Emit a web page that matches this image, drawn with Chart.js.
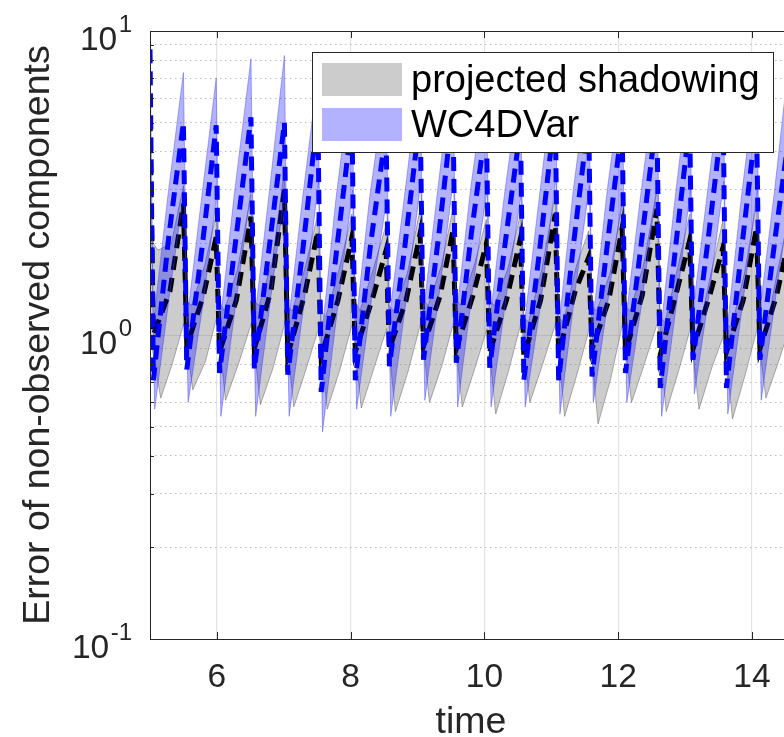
<!DOCTYPE html>
<html>
<head>
<meta charset="utf-8">
<script src="https://cdn.jsdelivr.net/npm/chart.js@4"></script>
<style>
  html, body { margin: 0; padding: 0; background: #fff; width: 784px; height: 737px; overflow: hidden; }
  #wrap { width: 800px; height: 737px; }
</style>
</head>
<body>
<div id="wrap"><canvas id="c" width="800" height="737"></canvas></div>
<script>
// ---- WC4DVar: mean error (dashed blue) ----
const wcTime = [5.00,5.05,5.28, 5.50,5.55,5.78, 5.99,6.04,6.27, 6.51,6.56,6.79, 7.01,7.06,7.29,
  7.51,7.56,7.79, 8.02,8.07,8.30, 8.53,8.58,8.81, 9.04,9.09,9.32, 9.53,9.58,9.81,
  10.03,10.08,10.31, 10.54,10.59,10.82, 11.06,11.11,11.34, 11.56,11.61,11.84, 12.06,12.11,12.34,
  12.58,12.63,12.86, 13.07,13.12,13.35, 13.57,13.62,13.85, 14.07,14.12,14.35, 14.58];
const wcMean = [8.7,0.71,2.1, 5.0,0.77,1.95, 4.9,0.75,1.95, 5.2,0.77,2.0, 5.0,0.74,1.95,
  5.4,0.65,1.9, 5.1,0.71,2.0, 4.7,0.79,1.95, 5.3,0.83,2.15, 5.6,0.81,2.2,
  5.0,0.78,2.0, 4.8,0.71,1.85, 5.5,0.71,2.05, 5.2,0.73,2.0, 4.9,0.75,1.95,
  5.3,0.67,1.95, 5.0,0.83,2.1, 5.4,0.67,1.95, 5.1,0.83,2.1, 5.0];

// ---- WC4DVar: spread (upper / lower edge of the blue band) ----
const wcHiTime = [5.00,5.05,5.27, 5.50,5.55,5.77, 5.99,6.04,6.26, 6.51,6.56,6.78, 7.01,7.06,7.28,
  7.51,7.56,7.78, 8.02,8.07,8.29, 8.53,8.58,8.80, 9.04,9.09,9.31, 9.53,9.58,9.80,
  10.03,10.08,10.30, 10.54,10.59,10.81, 11.06,11.11,11.33, 11.56,11.61,11.83, 12.06,12.11,12.33,
  12.58,12.63,12.85, 13.07,13.12,13.34, 13.57,13.62,13.84, 14.07,14.12,14.34, 14.58];
const wcHi = [9.3,1.1,2.9, 7.3,1.1,2.8, 7.0,1.05,2.9, 8.1,1.1,2.9, 8.3,1.05,2.8,
  7.2,0.95,2.8, 7.4,1.05,2.9, 6.9,1.15,2.8, 7.6,1.2,3.1, 7.9,1.15,3.1,
  7.2,1.1,2.9, 7.0,1.05,2.7, 7.8,1.05,3.0, 7.4,1.05,2.9, 7.1,1.1,2.8,
  7.6,1.0,2.8, 7.2,1.2,3.0, 7.7,1.0,2.8, 7.3,1.2,3.0, 9.0];
const wcLoTime = [5.00,5.07,5.30, 5.51,5.57,5.80, 6.00,6.06,6.29, 6.52,6.58,6.81, 7.02,7.08,7.31,
  7.52,7.58,7.81, 8.03,8.09,8.32, 8.54,8.60,8.83, 9.05,9.11,9.34, 9.54,9.60,9.83,
  10.04,10.10,10.33, 10.55,10.61,10.84, 11.07,11.13,11.36, 11.57,11.63,11.86, 12.07,12.13,12.36,
  12.59,12.65,12.88, 13.08,13.14,13.37, 13.58,13.64,13.87, 14.08,14.14,14.37, 14.59];
const wcLo = [4.5,0.57,1.4, 3.0,0.6,1.3, 2.9,0.54,1.3, 3.1,0.54,1.35, 3.0,0.54,1.3,
  3.2,0.48,1.25, 3.0,0.57,1.35, 2.8,0.54,1.3, 3.2,0.61,1.45, 3.3,0.58,1.45,
  3.0,0.58,1.35, 2.9,0.58,1.25, 3.3,0.55,1.4, 3.1,0.6,1.35, 2.9,0.6,1.3,
  3.2,0.54,1.3, 3.0,0.64,1.4, 3.2,0.55,1.3, 3.0,0.61,1.4, 3.0];

// ---- projected shadowing: mean error (dashed black) ----
const psTime = [5.00,5.05,5.30, 5.50,5.55,5.80, 5.99,6.04,6.29, 6.51,6.56,6.81, 7.01,7.06,7.31,
  7.51,7.56,7.81, 8.02,8.07,8.32, 8.53,8.58,8.83, 9.04,9.09,9.34, 9.53,9.58,9.83,
  10.03,10.08,10.33, 10.54,10.59,10.84, 11.06,11.11,11.36, 11.56,11.61,11.86, 12.06,12.11,12.36,
  12.58,12.63,12.88, 13.07,13.12,13.37, 13.57,13.62,13.87, 14.07,14.12,14.37, 14.58];
const psMean = [5.2,1.0,1.4, 2.7,0.92,1.35, 2.1,0.88,1.3, 2.45,0.9,1.4, 3.0,0.86,1.35,
  2.2,0.85,1.3, 2.1,0.88,1.3, 1.9,0.9,1.3, 2.16,0.92,1.35, 2.2,0.9,1.35,
  2.0,0.88,1.3, 2.08,0.85,1.3, 2.5,0.87,1.4, 1.8,0.9,1.3, 2.25,0.88,1.35,
  2.6,0.86,1.4, 2.05,0.9,1.35, 1.95,0.88,1.3, 2.26,0.9,1.35, 2.2];

// ---- projected shadowing: spread (upper / lower edge of the grey band) ----
const psHiTime = [5.00,5.05,5.12,5.32, 5.50,5.54,5.62,5.82, 5.99,6.03,6.11,6.31, 6.51,6.55,6.63,6.83,
  7.01,7.05,7.13,7.33, 7.51,7.55,7.63,7.83, 8.02,8.06,8.14,8.34, 8.53,8.57,8.65,8.85,
  9.04,9.08,9.16,9.36, 9.53,9.57,9.65,9.85, 10.03,10.07,10.15,10.35, 10.54,10.58,10.66,10.86,
  11.06,11.10,11.18,11.38, 11.56,11.60,11.68,11.88, 12.06,12.10,12.18,12.38, 12.58,12.62,12.70,12.90,
  13.07,13.11,13.19,13.39, 13.57,13.61,13.69,13.89, 14.07,14.11,14.19,14.39, 14.58];
const psHi = [2.4,2.0,1.9,2.0, 3.1,1.3,1.25,1.7, 2.5,1.3,1.2,1.65, 2.9,1.3,1.25,1.75,
  3.5,1.25,1.2,1.7, 2.5,1.2,1.15,1.65, 2.5,1.3,1.2,1.65, 2.3,1.25,1.2,1.6,
  2.6,1.3,1.25,1.7, 2.6,1.3,1.25,1.7, 2.4,1.3,1.25,1.65, 2.5,1.15,1.1,1.65,
  2.9,1.15,1.1,1.7, 2.2,1.25,1.2,1.6, 2.7,1.25,1.2,1.7, 3.0,1.15,1.1,1.7,
  2.5,1.05,1.0,1.6, 2.4,1.1,1.05,1.6, 2.7,1.0,0.98,1.65, 2.6];
const psLoTime = [5.00,5.16,5.33, 5.51,5.64,5.83, 6.00,6.13,6.32, 6.52,6.65,6.84, 7.02,7.15,7.34,
  7.52,7.65,7.84, 8.03,8.16,8.35, 8.54,8.67,8.86, 9.05,9.18,9.37, 9.54,9.67,9.86,
  10.04,10.17,10.36, 10.55,10.68,10.87, 11.07,11.20,11.39, 11.57,11.70,11.89, 12.07,12.20,12.39,
  12.59,12.72,12.91, 13.08,13.21,13.40, 13.58,13.71,13.90, 14.08,14.21,14.40, 14.59];
const psLo = [1.0,0.62,0.8, 1.1,0.66,0.82, 1.15,0.61,0.8, 1.1,0.59,0.78, 1.1,0.58,0.78,
  1.05,0.57,0.77, 1.1,0.575,0.78, 1.05,0.56,0.76, 1.1,0.6,0.8, 1.1,0.58,0.78,
  1.05,0.55,0.76, 1.1,0.6,0.8, 1.1,0.54,0.75, 1.05,0.51,0.72, 1.1,0.6,0.8,
  1.1,0.56,0.77, 1.05,0.57,0.78, 1.0,0.53,0.74, 1.05,0.62,0.82, 1.1];

// ---- axes ----
const xTicks = [6, 8, 10, 12, 14];
const yTicks = [0.1,0.2,0.3,0.4,0.5,0.6,0.7,0.8,0.9, 1,2,3,4,5,6,7,8,9, 10];
const yMajor = [{v: 10, exp: '1'}, {v: 1, exp: '0'}, {v: 0.1, exp: '-1'}];
const seriesNames = ['projected shadowing', 'WC4DVar'];
const xTitle = 'time';
const yTitle = 'Error of non-observed components';

const FONT = "'Liberation Sans', Arial, Helvetica, sans-serif";
const INK = '#262626';

const pts = (t, v) => t.map((x, i) => ({x: x, y: v[i]}));
const isMajor = v => Math.abs(Math.log10(v) - Math.round(Math.log10(v))) < 1e-9;

// axes frame, inward ticks, tick labels, titles and legend
const frame = {
  id: 'frame',
  afterDraw(chart) {
    const {ctx, chartArea: a, scales: {x, y}} = chart;
    ctx.save();
    ctx.strokeStyle = INK;
    ctx.lineWidth = 1;
    ctx.beginPath();
    ctx.moveTo(a.left + 0.5, a.top); ctx.lineTo(a.left + 0.5, a.bottom + 0.5);
    ctx.moveTo(a.left, a.bottom + 0.5); ctx.lineTo(a.right, a.bottom + 0.5);
    ctx.moveTo(a.left, a.top + 0.5); ctx.lineTo(a.right, a.top + 0.5);
    for (const t of xTicks) {
      const px = Math.round(x.getPixelForValue(t)) + 0.5;
      ctx.moveTo(px, a.bottom); ctx.lineTo(px, a.bottom - 7);
      ctx.moveTo(px, a.top); ctx.lineTo(px, a.top + 7);
    }
    for (const t of yTicks) {
      const py = Math.round(y.getPixelForValue(t)) + 0.5;
      const len = isMajor(t) ? 7 : 4;
      ctx.moveTo(a.left, py); ctx.lineTo(a.left + len, py);
    }
    ctx.stroke();

    // x tick labels
    ctx.fillStyle = INK;
    ctx.font = '33.5px ' + FONT;
    ctx.textAlign = 'center';
    ctx.textBaseline = 'alphabetic';
    for (const t of xTicks) ctx.fillText(String(t), x.getPixelForValue(t), 687);

    // y tick labels as powers of ten
    for (const m of yMajor) {
      const py = y.getPixelForValue(m.v);
      ctx.textAlign = 'right';
      ctx.font = '24px ' + FONT;
      const ew = ctx.measureText(m.exp).width;
      ctx.fillText(m.exp, 132, py + 1);
      ctx.font = '33.5px ' + FONT;
      ctx.fillText('10', 132 - ew - 1.5, py + 19);
    }

    // axis titles
    ctx.font = '37.5px ' + FONT;
    ctx.textAlign = 'center';
    ctx.fillText(xTitle, (a.left + a.right) / 2, 733);
    ctx.save();
    ctx.translate(49, (a.top + a.bottom) / 2);
    ctx.rotate(-Math.PI / 2);
    ctx.fillText(yTitle, 0, 0);
    ctx.restore();

    // legend box
    const lx = 312, ly = 52, lw = 461, lh = 100;
    ctx.fillStyle = '#ffffff';
    ctx.fillRect(lx, ly, lw, lh);
    ctx.strokeStyle = INK;
    ctx.strokeRect(lx + 0.5, ly + 0.5, lw, lh);
    const ds = chart.data.datasets;
    const swatches = [ds[4].backgroundColor, ds[1].backgroundColor];
    const rows = [{top: 63, base: 92}, {top: 108, base: 137}];
    ctx.font = '38px ' + FONT;
    ctx.textAlign = 'left';
    rows.forEach((r, i) => {
      ctx.fillStyle = swatches[i];
      ctx.fillRect(lx + 10, r.top, 80, 33);
      ctx.fillStyle = '#000000';
      ctx.fillText(seriesNames[i], lx + 99, r.base);
    });
    ctx.restore();
  }
};

const chart = new Chart(document.getElementById('c'), {
  type: 'line',
  data: {
    datasets: [
      { label: 'WC4DVar mean', data: pts(wcTime, wcMean), order: 0,
        borderColor: '#0000ff', borderWidth: 5, borderDash: [14, 8], fill: false },
      { label: seriesNames[1], data: pts(wcHiTime, wcHi), order: 1,
        borderColor: 'rgba(70,70,255,0.45)', borderWidth: 1,
        backgroundColor: 'rgba(0,0,255,0.3)', fill: {target: 2} },
      { label: 'WC4DVar lower', data: pts(wcLoTime, wcLo), order: 2,
        borderColor: 'rgba(70,70,255,0.45)', borderWidth: 1, fill: false },
      { label: 'projected shadowing mean', data: pts(psTime, psMean), order: 3,
        borderColor: '#000000', borderWidth: 5, borderDash: [14, 8], fill: false },
      { label: seriesNames[0], data: pts(psHiTime, psHi), order: 4,
        borderColor: 'rgba(90,90,90,0.5)', borderWidth: 1,
        backgroundColor: 'rgba(128,128,128,0.4)', fill: {target: 5} },
      { label: 'projected shadowing lower', data: pts(psLoTime, psLo), order: 5,
        borderColor: 'rgba(90,90,90,0.5)', borderWidth: 1, fill: false }
    ]
  },
  options: {
    responsive: false,
    animation: false,
    devicePixelRatio: 1,
    layout: { padding: { top: 31, right: 8, left: 0, bottom: 0 } },
    elements: { point: { radius: 0, hoverRadius: 0 }, line: { tension: 0 } },
    plugins: { legend: { display: false }, tooltip: { enabled: false } },
    scales: {
      x: {
        type: 'linear', min: 5, max: 14.6,
        afterBuildTicks: s => { s.ticks = xTicks.map(v => ({value: v})); },
        afterFit: s => { s.height = 98; },
        ticks: { display: false },
        grid: { color: '#e3e3e3', lineWidth: 1.2, drawTicks: false },
        border: { display: false }
      },
      y: {
        type: 'logarithmic', min: 0.1, max: 10,
        afterBuildTicks: s => { s.ticks = yTicks.map(v => ({value: v})); },
        afterFit: s => { s.width = 150; },
        ticks: { display: false },
        grid: {
          drawTicks: false, lineWidth: 1,
          color: c => (c.tick && isMajor(c.tick.value)) ? '#e0e0e0' : '#bdbdbd'
        },
        border: {
          display: false,
          dash: c => (c.tick && !isMajor(c.tick.value)) ? [1.5, 3.5] : []
        }
      }
    }
  },
  plugins: [frame]
});
</script>
</body>
</html>
